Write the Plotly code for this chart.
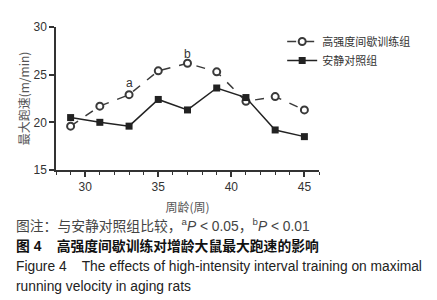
import plotly.graph_objects as go

weeks = [29, 31, 33, 35, 37, 39, 41, 43, 45]
hiit = [19.6, 21.7, 22.9, 25.4, 26.2, 25.3, 22.2, 22.7, 21.3]
control = [20.5, 20.0, 19.6, 22.4, 21.3, 23.6, 22.6, 19.2, 18.5]
sig_weeks = [33, 37]
sig_labels = ["a", "b"]
sig_y = [24.1, 27.2]
y_ticks = [15, 20, 25, 30]
x_ticks = [30, 35, 40, 45]

series_names = ["高强度间歇训练组", "安静对照组"]

fig = go.Figure()
fig.add_trace(go.Scatter(
    x=weeks, y=hiit, name=series_names[0], mode="lines+markers",
    line=dict(color="#3a3a3a", width=1.5, dash="dash"),
    marker=dict(symbol="circle", size=7, color="white", line=dict(color="#3a3a3a", width=2)),
))
fig.add_trace(go.Scatter(
    x=weeks, y=control, name=series_names[1], mode="lines+markers",
    line=dict(color="#222222", width=1.5),
    marker=dict(symbol="square", size=7, color="#222222"),
))
for xw, lab, yy in zip(sig_weeks, sig_labels, sig_y):
    fig.add_annotation(x=xw, y=yy, text=lab, showarrow=False,
                       font=dict(family="Liberation Sans", size=12, color="#333"))

def py(pix):
    return (162 - pix) / 150.0

caption = [
    ("图注：与安静对照组比较，<sup>a</sup><i>P</i> &lt; 0.05，<sup>b</sup><i>P</i> &lt; 0.01", 220, "#444"),
    ("<b>图 4</b>    <b>高强度间歇训练对增龄大鼠最大跑速的影响</b>", 242, "#111"),
    ("Figure 4    The effects of high-intensity interval training on maximal", 263, "#222"),
    ("running velocity in aging rats", 284, "#222"),
]
for txt, pix, col in caption:
    fig.add_annotation(xref="paper", yref="paper", x=(6 - 48) / 263.0, y=py(pix),
                       xanchor="left", yanchor="middle", text=txt, showarrow=False,
                       font=dict(family="Liberation Sans, Noto Sans CJK SC", size=13.8, color=col))

fig.update_layout(
    width=437, height=300,
    margin=dict(l=48, r=126, t=12, b=138),
    paper_bgcolor="white", plot_bgcolor="white",
    showlegend=True,
    legend=dict(x=0.86, y=1.0, xanchor="left", yanchor="top",
                font=dict(family="Noto Sans CJK SC", size=11, color="#333"),
                bgcolor="rgba(0,0,0,0)", itemwidth=30, tracegroupgap=2),
    xaxis=dict(range=[28, 46], tickvals=x_ticks, ticks="outside", ticklen=5, tickwidth=1.5,
               tickcolor="#333", showline=True, linecolor="#333", linewidth=1.5,
               showgrid=False, zeroline=False,
               minor=dict(dtick=1, tick0=28, ticks="outside", ticklen=3, tickcolor="#333", tickwidth=1.2),
               tickfont=dict(family="Liberation Sans", size=12, color="#333"),
               title=dict(text="周龄(周)", font=dict(family="Noto Sans CJK SC", size=12, color="#555"), standoff=10)),
    yaxis=dict(range=[15, 30], tickvals=y_ticks, ticks="outside", ticklen=5, tickwidth=1.5,
               tickcolor="#333", showline=True, linecolor="#333", linewidth=1.5,
               showgrid=False, zeroline=False,
               tickfont=dict(family="Liberation Sans", size=12, color="#333"),
               title=dict(text="最大跑速(m/min)", font=dict(family="Noto Sans CJK SC", size=12, color="#555"), standoff=1)),
)

fig.write_html("out.html")
